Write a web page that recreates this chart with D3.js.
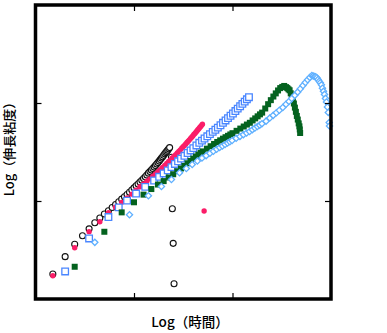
<!DOCTYPE html>
<html><head><meta charset="utf-8">
<script src="https://cdn.jsdelivr.net/npm/d3@7/dist/d3.min.js"></script>
<style>html,body{margin:0;padding:0;background:#fff;}svg{display:block;}</style>
</head><body>
<svg id="chart" width="387" height="333"></svg>
<script>
// ---- data (time on log axis, log of elongational viscosity) ----
const xTicks = [10, 100];
const yTicks = [1, 2];
const xTitle = "Log（時間）";
const yTitle = "Log（伸長粘度）";

const blackTime = [1.5,2,2.5,3,3.5,4,4.5,5,5.5,6,6.5,7,7.5,8,8.5,9,9.5,10,10.5,11,11.5,12,12.5,13,13.5,14,14.5,15,15.5,16,16.5,17,17.5,18,18.5,19,19.5,20,20.5,21,21.5,22,22.5,23,24,24.5,25,25.5];
const blackLogVisc = [0.255,0.432,0.559,0.645,0.716,0.778,0.827,0.867,0.901,0.934,0.964,0.993,1.019,1.044,1.067,1.089,1.112,1.134,1.155,1.174,1.194,1.211,1.230,1.248,1.266,1.284,1.300,1.316,1.332,1.346,1.361,1.377,1.392,1.407,1.423,1.438,1.452,1.466,1.481,1.494,1.506,1.519,1.533,1.545,1.446,0.921,0.568,0.156];

const pinkTime = [1.5,2.5,3.5,4.5,5.5,6.5,7.5,8.5,9.5,10.5,11.5,12.5,13.5,14.5,15.5,16.5,17.5,18.5,19.5,20.5,21.5,22.5,23.5,24.5,25.5,26.5,27.5,28.5,29.5,30.5,31.5,32.5,33.5,34.5,35.5,36.5,37.5,38.5,39.5,40.5,41.5,42.5,43.5,44.5,45.5,46.5,47.5,48.5,49.5,51.5];
const pinkLogVisc = [0.238,0.523,0.687,0.789,0.881,0.937,0.986,1.030,1.070,1.109,1.145,1.174,1.201,1.226,1.252,1.276,1.298,1.320,1.342,1.363,1.383,1.403,1.420,1.439,1.456,1.473,1.491,1.506,1.522,1.538,1.553,1.567,1.582,1.597,1.610,1.624,1.638,1.651,1.664,1.678,1.690,1.702,1.714,1.727,1.738,1.750,1.761,1.772,1.784,0.898];

const blueTime = [2,3.5,5.5,7,8.5,10.5,13,16,18,20,22,24,26,28,30,32.5,35,37.5,40,43,46,49,52,55.5,59,63,67,71,75.5,80,85,90,95.5,101,107,113,119.5,126,133,140,147];
const blueLogVisc = [0.281,0.618,0.836,0.935,1.004,1.076,1.144,1.209,1.247,1.281,1.313,1.346,1.378,1.405,1.432,1.461,1.490,1.516,1.540,1.567,1.594,1.616,1.638,1.660,1.682,1.705,1.727,1.749,1.773,1.798,1.822,1.846,1.870,1.893,1.918,1.943,1.967,1.991,2.014,2.038,2.059];

const greenTime = [2.5,5,7.5,10,12.5,15,17.5,20,22.5,25,27.5,30,32.5,35,37.5,40,42.5,45,47.5,50,55,60,65,70,75,80,85,90,95,100,110,120,130,140,150,160,170,180,190,200,215,230,245,260,275,290,305,320,335,350,360,370,380,390,400,410,420,430,440,450,460,470,478,482,486];
const greenLogVisc = [0.329,0.686,0.884,0.987,1.065,1.122,1.168,1.203,1.240,1.273,1.304,1.332,1.358,1.385,1.409,1.432,1.453,1.473,1.492,1.506,1.534,1.559,1.582,1.602,1.619,1.636,1.651,1.665,1.679,1.692,1.716,1.739,1.760,1.780,1.798,1.822,1.843,1.864,1.884,1.902,1.944,1.988,2.029,2.066,2.098,2.128,2.152,2.164,2.174,2.162,2.152,2.140,2.130,2.099,2.068,2.038,1.995,1.953,1.910,1.868,1.831,1.792,1.762,1.730,1.694];

const skyTime = [4,9,14,19,24,29,34,39,44,49,54,59,64,69,74,79,84,89,94,99,109,119,129,139,149,159,169,179,189,199,219,239,259,279,299,324,349,374,399,429,459,489,519,549,579,609,639,659,679,699,719,739,759,779,799,819,839,859,879,899,919,939,959,965];
const skyLogVisc = [0.578,0.860,1.053,1.148,1.219,1.288,1.332,1.373,1.408,1.438,1.463,1.487,1.508,1.528,1.545,1.561,1.577,1.591,1.604,1.617,1.640,1.659,1.677,1.694,1.709,1.728,1.744,1.760,1.774,1.789,1.815,1.846,1.874,1.901,1.926,1.954,1.987,2.016,2.046,2.078,2.111,2.145,2.179,2.209,2.237,2.261,2.280,2.276,2.271,2.267,2.258,2.241,2.222,2.206,2.185,2.151,2.119,2.088,2.047,2.010,1.959,1.904,1.800,1.765];

// ---- drawing ----
const svg = d3.select("#chart");
const L = 35.5, R = 331, T = 5, B = 299;
const x = d3.scaleLog().domain([1, 1000]).range([L, R]);
const y = d3.scaleLinear().domain([0, 3]).range([B, T]);

const zip = (a, b) => a.map((v, i) => [v, b[i]]);
const plot = svg.append("g");

function series(times, vals, shape, size, fill, stroke, sw, rot) {
  const sym = d3.symbol().type(shape).size(size);
  plot.append("g").selectAll("path").data(zip(times, vals)).join("path")
    .attr("d", sym)
    .attr("transform", d => `translate(${x(d[0])},${y(d[1])})${rot ? " rotate(45)" : ""}`)
    .attr("fill", fill).attr("stroke", stroke).attr("stroke-width", sw);
}

series(blackTime, blackLogVisc, d3.symbolCircle, Math.PI * 3.0 * 3.0, "#fff", "#111", 1.1, false);
series(pinkTime, pinkLogVisc, d3.symbolCircle, Math.PI * 2.7 * 2.7, "#fb1d68", "none", 0, false);
series(blueTime, blueLogVisc, d3.symbolSquare, 6.6 * 6.6, "#fff", "#4a86ff", 1.3, false);
series(greenTime, greenLogVisc, d3.symbolSquare, 6.0 * 6.0, "#04621f", "none", 0, false);
series(skyTime, skyLogVisc, d3.symbolSquare, 4.4 * 4.4, "#fff", "#5fb0ff", 1.3, true);

// axes with inward ticks, no labels
const axG = svg.append("g").attr("font-size", 0);
axG.append("g").attr("transform", `translate(0,${B})`).call(d3.axisBottom(x).tickValues(xTicks).tickSize(-6).tickFormat(""));
axG.append("g").attr("transform", `translate(0,${T})`).call(d3.axisTop(x).tickValues(xTicks).tickSize(-6).tickFormat(""));
axG.append("g").attr("transform", `translate(${L},0)`).call(d3.axisLeft(y).tickValues(yTicks).tickSize(-6).tickFormat(""));
axG.append("g").attr("transform", `translate(${R},0)`).call(d3.axisRight(y).tickValues(yTicks).tickSize(-6).tickFormat(""));
axG.selectAll(".domain").remove();
axG.selectAll(".tick line").attr("stroke", "#000").attr("stroke-width", 1.2);

svg.append("rect").attr("x", L).attr("y", T).attr("width", R - L).attr("height", B - T)
  .attr("fill", "none").attr("stroke", "#000").attr("stroke-width", 3.5);

// titles
svg.append("text").attr("x", 190).attr("y", 327).attr("text-anchor", "middle")
  .attr("font-family", "'Noto Sans CJK JP', 'Noto Sans', sans-serif").attr("font-weight", 500)
  .attr("font-size", 13.5).attr("fill", "#000").text(xTitle);
svg.append("text").attr("transform", "translate(14,146) rotate(-90)").attr("text-anchor", "middle")
  .attr("font-family", "'Noto Sans CJK JP', 'Noto Sans', sans-serif").attr("font-weight", 500)
  .attr("font-size", 13).attr("fill", "#000").text(yTitle);
</script>
</body></html>
